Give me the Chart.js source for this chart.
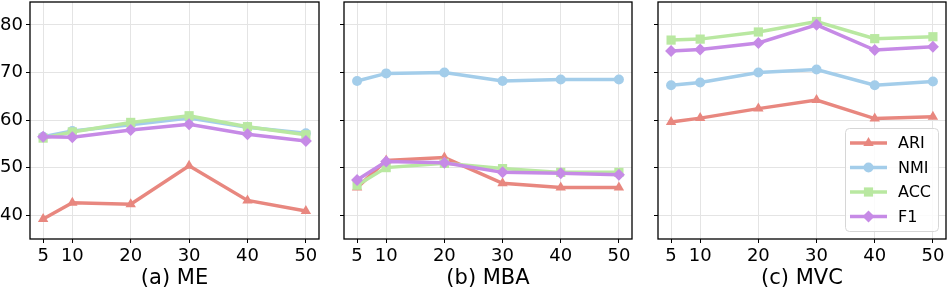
<!DOCTYPE html>
<html>
<head>
<meta charset="utf-8">
<script src="https://cdn.jsdelivr.net/npm/chart.js@4.4.1/dist/chart.umd.min.js"></script>
<style>
  body { margin: 0; background: #fff; width: 947px; height: 289px; position: relative; overflow: hidden; }
  canvas { position: absolute; top: 0; }
</style>
</head>
<body>
<canvas id="chartA" width="320" height="289" style="left:0px"></canvas>
<canvas id="chartB" width="303" height="289" style="left:330px"></canvas>
<canvas id="chartC" width="303" height="289" style="left:644px"></canvas>
<script>
const xValues = [5, 10, 20, 30, 40, 50];
const yTicks = [40, 50, 60, 70, 80];
const seriesNames = ['ARI', 'NMI', 'ACC', 'F1'];
const panelTitles = ['(a) ME', '(b) MBA', '(c) MVC'];

// (a) ME
const meARI = [39.2, 42.6, 42.3, 50.4, 43.1, 40.9];
const meNMI = [56.5, 57.7, 59.0, 60.4, 58.5, 57.2];
const meACC = [56.2, 57.5, 59.5, 60.9, 58.6, 56.9];
const meF1  = [56.5, 56.4, 57.9, 59.1, 57.0, 55.6];

// (b) MBA
const mbaARI = [45.8, 51.5, 52.1, 46.7, 45.8, 45.8];
const mbaNMI = [68.2, 69.8, 70.0, 68.2, 68.5, 68.5];
const mbaACC = [46.3, 50.0, 50.9, 49.8, 49.0, 49.0];
const mbaF1  = [47.4, 51.3, 51.0, 49.0, 48.8, 48.5];

// (c) MVC
const mvcARI = [59.6, 60.4, 62.4, 64.2, 60.3, 60.7];
const mvcNMI = [67.3, 67.9, 70.0, 70.6, 67.3, 68.1];
const mvcACC = [76.8, 77.0, 78.5, 80.7, 77.1, 77.5];
const mvcF1  = [74.5, 74.8, 76.2, 80.0, 74.7, 75.4];

const colors = ['#e8877f', '#a3cdea', '#b9e8a1', '#c68ae6'];
const markers = ['triangle', 'circle', 'rect', 'rectRot'];
const markerSizes = [6, 5, 6.5, 6];
const font = 'DejaVu Sans';

// box around the plot area, like matplotlib spines
const frame = {
    id: 'frame',
    afterDatasetsDraw(chart) {
        const a = chart.chartArea;
        const ctx = chart.ctx;
        ctx.save();
        ctx.strokeStyle = '#000';
        ctx.lineWidth = 1.3;
        ctx.strokeRect(a.left, a.top, a.right - a.left, a.bottom - a.top);
        ctx.restore();
    }
};

// legend drawn inside the plot, lower right
const innerLegend = {
    id: 'innerLegend',
    afterDraw(chart, args, opts) {
        if (!opts.show) return;
        const ctx = chart.ctx;
        const a = chart.chartArea;
        const boxW = 93, boxH = 103;
        const bx = a.right - boxW - 8, by = a.bottom - boxH - 8;
        ctx.save();
        ctx.fillStyle = 'rgba(255,255,255,0.85)';
        ctx.strokeStyle = '#d6d6d6';
        ctx.lineWidth = 1;
        ctx.beginPath();
        ctx.roundRect(bx + 0.5, by + 0.5, boxW, boxH, 4);
        ctx.fill();
        ctx.stroke();
        chart.data.datasets.forEach((ds, i) => {
            const y = by + 15 + i * 24.5;
            const x0 = bx + 5, x1 = bx + 42;
            ctx.strokeStyle = ds.borderColor;
            ctx.lineWidth = 3.5;
            ctx.beginPath();
            ctx.moveTo(x0, y);
            ctx.lineTo(x1, y);
            ctx.stroke();
            ctx.fillStyle = ds.backgroundColor;
            Chart.helpers.drawPoint(ctx, {pointStyle: ds.pointStyle, rotation: 0, borderWidth: 0, radius: ds.pointRadius}, (x0 + x1) / 2, y);
            ctx.fillStyle = '#000';
            ctx.font = '16px "' + font + '"';
            ctx.textBaseline = 'middle';
            ctx.fillText(ds.label, bx + 53, y + 1);
        });
        ctx.restore();
    }
};

function makePanel(id, title, series, showLabels, showLegend) {
    const datasets = series.map((vals, i) => ({
        label: seriesNames[i],
        data: xValues.map((x, j) => ({x: x, y: vals[j]})),
        borderColor: colors[i],
        backgroundColor: colors[i],
        borderWidth: 3.5,
        pointStyle: markers[i],
        pointRadius: markerSizes[i],
        pointBorderWidth: 0,
        order: 4 - i
    }));
    return new Chart(document.getElementById(id), {
        type: 'line',
        data: { datasets: datasets },
        plugins: [frame, innerLegend],
        options: {
            responsive: false,
            animation: false,
            layout: { autoPadding: false, padding: { top: 2, right: 1, left: 0, bottom: 0 } },
            plugins: {
                legend: { display: false },
                tooltip: { enabled: false },
                innerLegend: { show: showLegend }
            },
            scales: {
                x: {
                    type: 'linear',
                    min: 2.75,
                    max: 52.25,
                    afterBuildTicks: s => { s.ticks = xValues.map(v => ({value: v})); },
                    afterFit: s => { s.height = 50; s.paddingLeft = 0; s.paddingRight = 0; },
                    grid: { color: '#e4e4e4', tickColor: '#000', tickLength: 4 },
                    border: { display: false },
                    ticks: { color: '#000', font: { family: font, size: 18 }, padding: 3, maxRotation: 0 },
                    title: { display: true, text: title, color: '#000', font: { family: font, size: 21, lineHeight: 1.0 }, padding: 0 }
                },
                y: {
                    min: 35,
                    max: 84.8,
                    afterBuildTicks: s => { s.ticks = yTicks.map(v => ({value: v})); },
                    afterFit: s => { s.width = showLabels ? 30 : 14; s.paddingTop = 0; s.paddingBottom = 0; },
                    grid: { color: '#e4e4e4', tickColor: '#000', tickLength: 4 },
                    border: { display: false },
                    ticks: { display: showLabels, color: '#000', font: { family: font, size: 18 }, padding: 3 }
                }
            }
        }
    });
}

makePanel('chartA', panelTitles[0], [meARI, meNMI, meACC, meF1], true, false);
makePanel('chartB', panelTitles[1], [mbaARI, mbaNMI, mbaACC, mbaF1], false, false);
makePanel('chartC', panelTitles[2], [mvcARI, mvcNMI, mvcACC, mvcF1], false, true);
</script>
</body>
</html>
